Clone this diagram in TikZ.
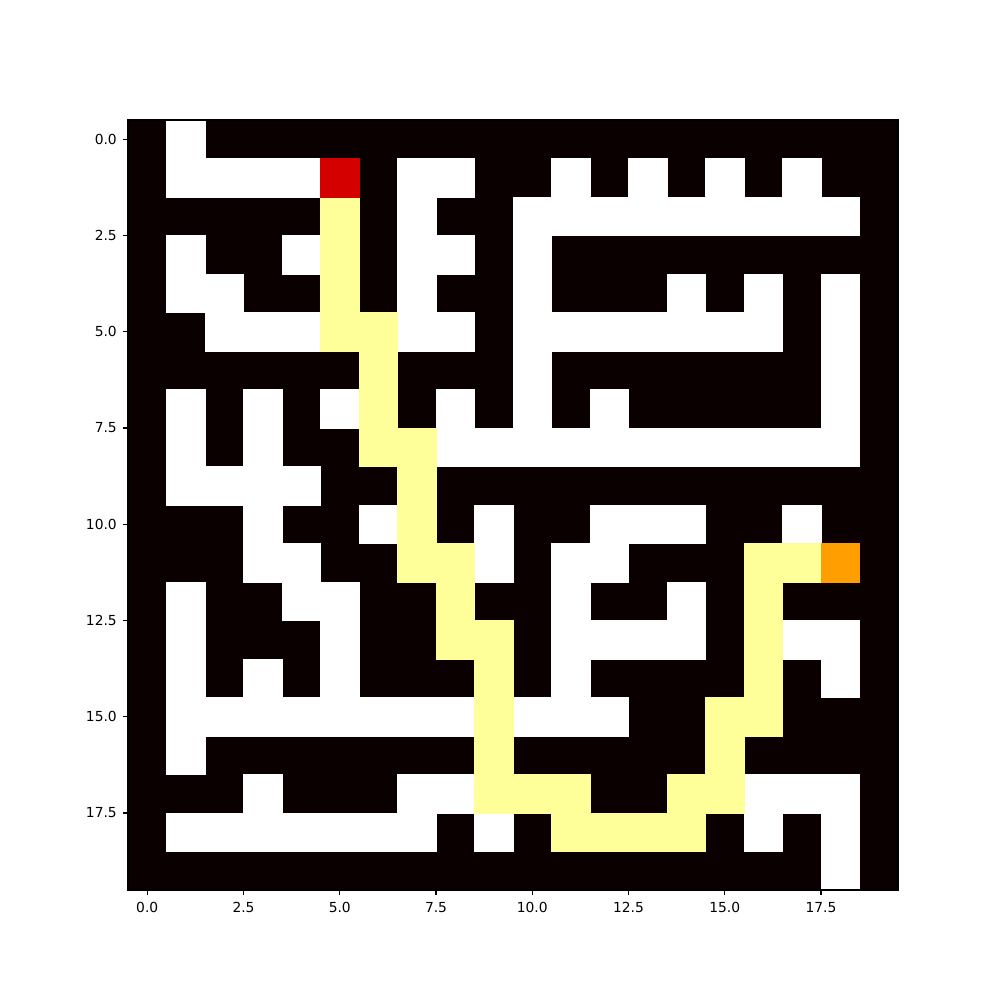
\documentclass[tikz,border=0pt]{standalone}
\usepackage{fontspec}
\setmainfont{DejaVu Sans}
\definecolor{wallc}{HTML}{0B0000}
\definecolor{pathc}{HTML}{FFFF99}
\definecolor{startc}{HTML}{D40000}
\definecolor{endc}{HTML}{FF9E00}
\tikzset{
  cellw/.style={fill=white, draw=white, line width=0.2pt},
  celly/.style={fill=pathc, draw=pathc, line width=0.2pt},
  tickmark/.style={line width=0.8pt, black},
  ticklabel/.style={inner sep=0pt, font=\fontsize{10pt}{12pt}\selectfont}
}
\begin{document}
\begin{tikzpicture}[x=9.779mm,y=-9.779mm]
\useasboundingbox[fill=white] (-3.8247,-3.6169) rectangle (22.1494,22.3571);
% walls
\fill[wallc] (-0.5,-0.5) rectangle (19.5,19.5);
% open cells
\foreach \r/\a/\b in {0/1/1,
 1/1/4, 1/7/8, 1/11/11, 1/13/13, 1/15/15, 1/17/17,
 2/7/7, 2/10/18,
 3/1/1, 3/4/4, 3/7/8, 3/10/10,
 4/1/2, 4/7/7, 4/10/10, 4/14/14, 4/16/16, 4/18/18,
 5/2/4, 5/7/8, 5/10/16, 5/18/18,
 6/10/10, 6/18/18,
 7/1/1, 7/3/3, 7/5/5, 7/8/8, 7/10/10, 7/12/12, 7/18/18,
 8/1/1, 8/3/3, 8/8/18,
 9/1/4,
 10/3/3, 10/6/6, 10/9/9, 10/12/14, 10/17/17,
 11/3/4, 11/9/9, 11/11/12,
 12/1/1, 12/4/5, 12/11/11, 12/14/14,
 13/1/1, 13/5/5, 13/11/14, 13/17/18,
 14/1/1, 14/3/3, 14/5/5, 14/11/11, 14/18/18,
 15/1/8, 15/10/12,
 16/1/1,
 17/3/3, 17/7/8, 17/16/18,
 18/1/7, 18/9/9, 18/16/16, 18/18/18,
 19/18/18}
  \filldraw[cellw] ({\a-0.5},{\r-0.5}) rectangle ({\b+0.5},{\r+0.5});
% solution path
\foreach \r/\a/\b in {2/5/5, 3/5/5, 4/5/5, 5/5/6, 6/6/6, 7/6/6, 8/6/7, 9/7/7,
 10/7/7, 11/7/8, 11/16/17, 12/8/8, 12/16/16, 13/8/9, 13/16/16, 14/9/9,
 14/16/16, 15/9/9, 15/15/16, 16/9/9, 16/15/15, 17/9/11, 17/14/15, 18/11/14}
  \filldraw[celly] ({\a-0.5},{\r-0.5}) rectangle ({\b+0.5},{\r+0.5});
% start and end
\filldraw[fill=startc, draw=startc, line width=0.2pt] (4.5,0.5) rectangle (5.5,1.5);
\filldraw[fill=endc, draw=endc, line width=0.2pt] (17.5,10.5) rectangle (18.5,11.5);
% axes frame
\draw[line width=0.8pt] (-0.5,-0.5) rectangle (19.5,19.5);
% ticks and labels
\foreach \v/\t [count=\i] in {0/0.0,2.5/2.5,5/5.0,7.5/7.5,10/10.0,12.5/12.5,15/15.0,17.5/17.5} {
  \draw[tickmark] (\v,19.5) -- ++(0,-3.5pt);
  \node[ticklabel, anchor=north] (xl\i) at ([yshift=-8.7pt]\v,19.5) {\t};
  \draw[tickmark] (-0.5,\v) -- ++(-3.5pt,0);
  \node[ticklabel, anchor=east] (yl\i) at ([xshift=-7.9pt]-0.5,\v) {\t};
}
\end{tikzpicture}
\end{document}
